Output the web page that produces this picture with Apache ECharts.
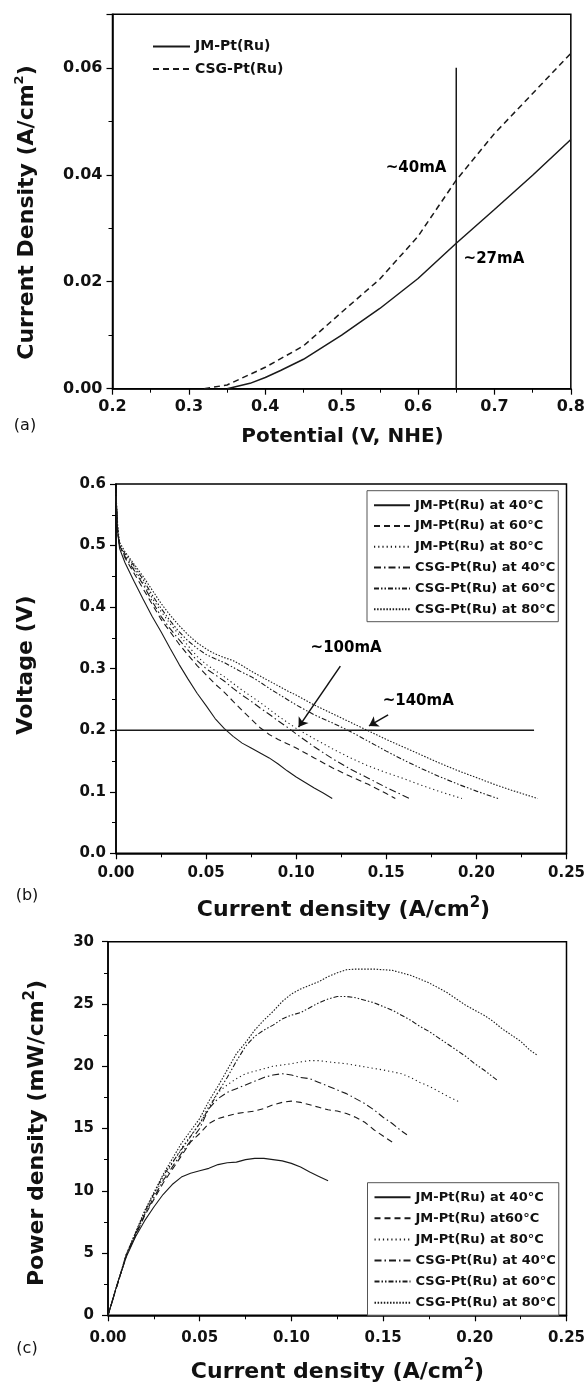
<!DOCTYPE html>
<html><head><meta charset="utf-8">
<script src="https://cdn.jsdelivr.net/npm/echarts@6/dist/echarts.min.js"></script>
<style>html,body{margin:0;padding:0;background:#fff}#c{width:588px;height:1388px}</style>
</head><body><div id="c"></div>
<script>
// ---------- Panel (a): current density vs potential ----------
const aNames = ['JM-Pt(Ru)', 'CSG-Pt(Ru)'];
const aJM = [[0.35,0],[0.38,0.001],[0.40,0.0021],[0.42,0.0034],[0.45,0.0055],[0.50,0.0100],[0.55,0.0150],[0.60,0.0206],[0.65,0.0272],[0.70,0.0335],[0.75,0.0399],[0.80,0.0466]];
const aCSG = [[0.32,0],[0.35,0.0007],[0.40,0.0040],[0.45,0.0080],[0.50,0.0143],[0.55,0.0205],[0.60,0.0285],[0.65,0.0390],[0.70,0.0477],[0.75,0.0552],[0.80,0.0627]];
const aVLine = [[0.65,0],[0.65,0.06]];
const aNotes = [{text:'~40mA', at:[0.598,0.0412]},{text:'~27mA', at:[0.70,0.0242]}];

// ---------- Panel (b): voltage vs current density ----------
const bNames = ['JM-Pt(Ru) at 40°C','JM-Pt(Ru) at 60°C','JM-Pt(Ru) at 80°C','CSG-Pt(Ru) at 40°C','CSG-Pt(Ru) at 60°C','CSG-Pt(Ru) at 80°C'];
const bJM40 = [[0,0.58],[0.001,0.52],[0.002,0.495],[0.005,0.472],[0.01,0.442],[0.015,0.413],[0.02,0.385],[0.025,0.36],[0.03,0.333],[0.035,0.307],[0.04,0.283],[0.045,0.26],[0.05,0.24],[0.055,0.219],[0.06,0.203],[0.065,0.19],[0.07,0.179],[0.075,0.171],[0.08,0.163],[0.085,0.155],[0.09,0.145],[0.095,0.134],[0.1,0.124],[0.105,0.115],[0.11,0.106],[0.115,0.098],[0.12,0.089]];
const bJM60 = [[0,0.58],[0.001,0.52],[0.002,0.5],[0.005,0.48],[0.01,0.455],[0.015,0.43],[0.02,0.405],[0.025,0.38],[0.03,0.36],[0.035,0.34],[0.04,0.322],[0.045,0.305],[0.05,0.29],[0.055,0.275],[0.06,0.262],[0.065,0.247],[0.07,0.232],[0.075,0.218],[0.08,0.204],[0.085,0.193],[0.09,0.185],[0.095,0.178],[0.1,0.171],[0.11,0.155],[0.12,0.139],[0.13,0.125],[0.14,0.112],[0.15,0.097],[0.155,0.089]];
const bJM80 = [[0,0.58],[0.001,0.52],[0.002,0.5],[0.005,0.485],[0.01,0.463],[0.015,0.44],[0.02,0.415],[0.025,0.393],[0.03,0.373],[0.035,0.355],[0.04,0.337],[0.045,0.32],[0.05,0.307],[0.055,0.297],[0.06,0.287],[0.065,0.276],[0.07,0.265],[0.075,0.255],[0.08,0.245],[0.085,0.234],[0.09,0.223],[0.095,0.213],[0.1,0.203],[0.11,0.186],[0.12,0.17],[0.13,0.155],[0.14,0.142],[0.15,0.131],[0.16,0.121],[0.17,0.11],[0.18,0.1],[0.192,0.089]];
const bCSG40 = [[0,0.58],[0.001,0.52],[0.002,0.5],[0.005,0.482],[0.01,0.46],[0.015,0.437],[0.02,0.41],[0.025,0.385],[0.03,0.365],[0.035,0.347],[0.04,0.33],[0.045,0.313],[0.05,0.3],[0.055,0.29],[0.06,0.28],[0.065,0.268],[0.07,0.257],[0.075,0.247],[0.08,0.236],[0.085,0.226],[0.09,0.215],[0.095,0.205],[0.1,0.194],[0.11,0.173],[0.12,0.154],[0.13,0.137],[0.14,0.122],[0.15,0.107],[0.163,0.089]];
const bCSG60 = [[0,0.58],[0.001,0.52],[0.002,0.5],[0.005,0.487],[0.01,0.467],[0.015,0.445],[0.02,0.42],[0.025,0.398],[0.03,0.378],[0.035,0.36],[0.04,0.345],[0.045,0.333],[0.05,0.323],[0.055,0.316],[0.06,0.31],[0.065,0.302],[0.07,0.294],[0.075,0.287],[0.08,0.278],[0.085,0.268],[0.09,0.259],[0.095,0.25],[0.1,0.241],[0.11,0.225],[0.12,0.212],[0.13,0.198],[0.14,0.182],[0.15,0.166],[0.16,0.151],[0.17,0.137],[0.18,0.124],[0.19,0.112],[0.2,0.101],[0.212,0.089]];
const bCSG80 = [[0,0.585],[0.001,0.53],[0.002,0.505],[0.005,0.49],[0.01,0.47],[0.015,0.45],[0.02,0.428],[0.025,0.406],[0.03,0.387],[0.035,0.37],[0.04,0.355],[0.045,0.342],[0.05,0.332],[0.055,0.324],[0.06,0.318],[0.065,0.313],[0.07,0.305],[0.075,0.296],[0.08,0.288],[0.085,0.28],[0.09,0.272],[0.095,0.264],[0.1,0.257],[0.11,0.241],[0.12,0.227],[0.13,0.213],[0.14,0.199],[0.15,0.185],[0.16,0.172],[0.17,0.159],[0.18,0.146],[0.19,0.134],[0.2,0.123],[0.21,0.112],[0.22,0.102],[0.234,0.089]];
const bHLine = [[0,0.2],[0.232,0.2]];
const bArrows = [[[0.1245,0.304],[0.1013,0.205]],[[0.151,0.225],[0.1404,0.207]]];
const bNotes = [{text:'~100mA', at:[0.128,0.332]},{text:'~140mA', at:[0.168,0.246]}];

// ---------- Panel (c): power density vs current density ----------
const cNames = ['JM-Pt(Ru) at 40°C','JM-Pt(Ru) at60°C','JM-Pt(Ru) at 80°C','CSG-Pt(Ru) at 40°C','CSG-Pt(Ru) at 60°C','CSG-Pt(Ru) at 80°C'];
const cJM40 = [[0,0],[0.005,2.5],[0.01,4.7],[0.015,6.3],[0.02,7.6],[0.025,8.7],[0.03,9.7],[0.035,10.5],[0.04,11.1],[0.045,11.4],[0.05,11.6],[0.055,11.8],[0.06,12.1],[0.065,12.25],[0.07,12.3],[0.075,12.5],[0.08,12.6],[0.085,12.6],[0.09,12.5],[0.095,12.4],[0.1,12.2],[0.105,11.9],[0.11,11.5],[0.115,11.15],[0.12,10.8]];
const cJM60 = [[0,0],[0.01,4.8],[0.02,8.0],[0.03,10.6],[0.04,12.8],[0.045,13.9],[0.05,14.6],[0.055,15.4],[0.06,15.8],[0.065,16.0],[0.07,16.2],[0.075,16.3],[0.08,16.4],[0.085,16.6],[0.09,16.9],[0.095,17.1],[0.1,17.2],[0.105,17.1],[0.11,16.9],[0.115,16.7],[0.12,16.5],[0.125,16.4],[0.13,16.2],[0.135,15.9],[0.14,15.5],[0.145,14.9],[0.15,14.4],[0.155,13.9]];
const cJM80 = [[0,0],[0.01,4.9],[0.02,8.2],[0.03,11.0],[0.04,13.4],[0.05,15.4],[0.055,16.8],[0.06,17.9],[0.065,18.5],[0.07,19.0],[0.075,19.4],[0.08,19.6],[0.085,19.8],[0.09,20.0],[0.095,20.1],[0.1,20.2],[0.105,20.35],[0.11,20.45],[0.115,20.45],[0.12,20.35],[0.13,20.2],[0.14,19.95],[0.15,19.7],[0.16,19.4],[0.165,19.1],[0.17,18.7],[0.175,18.4],[0.18,18.0],[0.185,17.6],[0.192,17.1]];
const cCSG40 = [[0,0],[0.01,4.8],[0.02,8.1],[0.03,10.8],[0.04,13.0],[0.045,14.0],[0.05,15.0],[0.055,16.6],[0.06,17.4],[0.065,17.9],[0.07,18.2],[0.075,18.5],[0.08,18.8],[0.085,19.1],[0.09,19.3],[0.095,19.4],[0.1,19.3],[0.105,19.1],[0.11,19.0],[0.115,18.7],[0.12,18.4],[0.125,18.1],[0.13,17.8],[0.135,17.4],[0.14,17.0],[0.145,16.5],[0.15,15.9],[0.155,15.4],[0.16,14.8],[0.163,14.5]];
const cCSG60 = [[0,0],[0.01,4.9],[0.02,8.3],[0.03,11.2],[0.04,13.3],[0.05,15.4],[0.055,16.6],[0.06,17.9],[0.065,19.1],[0.07,20.4],[0.075,21.6],[0.08,22.4],[0.085,22.9],[0.09,23.3],[0.095,23.8],[0.1,24.1],[0.105,24.3],[0.11,24.7],[0.115,25.1],[0.12,25.4],[0.125,25.6],[0.13,25.6],[0.135,25.5],[0.14,25.3],[0.145,25.1],[0.15,24.8],[0.155,24.5],[0.16,24.1],[0.165,23.7],[0.17,23.2],[0.175,22.8],[0.18,22.3],[0.185,21.8],[0.19,21.3],[0.195,20.8],[0.2,20.2],[0.205,19.7],[0.212,18.9]];
const cCSG80 = [[0,0],[0.01,4.9],[0.02,8.4],[0.03,11.3],[0.04,13.8],[0.05,15.8],[0.055,17.2],[0.06,18.4],[0.065,19.7],[0.07,21.0],[0.075,21.9],[0.08,22.9],[0.085,23.7],[0.09,24.4],[0.095,25.2],[0.1,25.8],[0.105,26.2],[0.11,26.5],[0.115,26.8],[0.12,27.2],[0.125,27.5],[0.13,27.75],[0.135,27.8],[0.14,27.8],[0.145,27.8],[0.15,27.75],[0.155,27.7],[0.16,27.5],[0.165,27.3],[0.17,27.0],[0.175,26.7],[0.18,26.3],[0.185,25.9],[0.19,25.4],[0.195,24.9],[0.2,24.5],[0.205,24.1],[0.21,23.6],[0.215,23.0],[0.22,22.5],[0.225,22.0],[0.23,21.3],[0.234,20.9]];

// ---------- styling ----------
const FONT = 'DejaVu Sans';
const INK = '#111';
const dashStyles = ['solid',[6,4],[1.2,3],[7,3,1.5,3],[5,2,1.5,2,1.5,2],[1.5,1.6]];

function lineSeries(name, data, idx, dash, width) {
  return {type:'line', name, data, xAxisIndex:idx, yAxisIndex:idx, symbol:'none',
    lineStyle:{color:'#1a1a1a', width:width, type:dash}, itemStyle:{color:'#1a1a1a'},
    silent:true, animation:false, z:3};
}
function noteSeries(notes, idx, size) {
  return {type:'scatter', xAxisIndex:idx, yAxisIndex:idx, symbolSize:1, silent:true, animation:false,
    itemStyle:{color:'rgba(0,0,0,0)'},
    data: notes.map(n => ({value:n.at, label:{formatter:n.text}})),
    label:{show:true, position:[0,0], align:'center', verticalAlign:'middle',
      fontFamily:FONT, fontWeight:'bold', fontSize:size, color:'#000', opacity:1}};
}
function xAx(idx, min, max, interval, dec, fs, margin) {
  return {type:'value', gridIndex:idx, min, max, interval,
    axisLine:{show:true, onZero:false, lineStyle:{color:'#000', width:1.5}},
    axisTick:{show:true, inside:false, length:6, lineStyle:{color:'#000', width:1.2}},
    minorTick:{show:true, splitNumber:2, length:4, lineStyle:{color:'#000', width:1}},
    splitLine:{show:false},
    axisLabel:{fontFamily:FONT, fontWeight:'bold', fontSize:fs, color:INK, margin, formatter:v=>v.toFixed(dec)}};
}
function yAx(idx, min, max, interval, dec, fs, margin, hideMax) {
  const a = xAx(idx, min, max, interval, dec, fs, margin);
  if (hideMax) a.axisLabel.showMaxLabel = false;
  return a;
}
function legendBox(names, left, top, fs, boxed, itemW, itemH, gap, pad) {
  return {data:names, orient:'vertical', left, top, itemWidth:itemW, itemHeight:itemH, itemGap:gap,
    padding:pad, selectedMode:false,
    itemStyle:{opacity:0, borderWidth:0},
    lineStyle:{opacity:1},
    borderColor: boxed ? '#555' : 'transparent', borderWidth: boxed ? 1 : 0,
    backgroundColor: boxed ? '#fff' : 'transparent',
    textStyle:{fontFamily:FONT, fontWeight:'bold', fontSize:fs, color:INK}};
}

const series = [
  lineSeries(aNames[0], aJM, 0, 'solid', 1.5),
  lineSeries(aNames[1], aCSG, 0, [6,4], 1.5),
  lineSeries('aRef', aVLine, 0, 'solid', 1.5),
  noteSeries(aNotes, 0, 15),
  lineSeries(bNames[0], bJM40, 1, dashStyles[0], 1.1),
  lineSeries(bNames[1], bJM60, 1, dashStyles[1], 1.1),
  lineSeries(bNames[2], bJM80, 1, dashStyles[2], 1.1),
  lineSeries(bNames[3], bCSG40, 1, dashStyles[3], 1.1),
  lineSeries(bNames[4], bCSG60, 1, dashStyles[4], 1.1),
  lineSeries(bNames[5], bCSG80, 1, dashStyles[5], 1.1),
  Object.assign(lineSeries('bRef', bHLine, 1, 'solid', 1.5), {
    markLine:{silent:true, animation:false, symbol:['none','arrow'], symbolSize:9,
      lineStyle:{color:INK, width:1.5, type:'solid'}, label:{show:false},
      data: bArrows.map(a => [{coord:a[0]},{coord:a[1]}])}
  }),
  noteSeries(bNotes, 1, 15),
  lineSeries(cNames[0], cJM40, 2, dashStyles[0], 1.1),
  lineSeries(cNames[1], cJM60, 2, dashStyles[1], 1.1),
  lineSeries(cNames[2], cJM80, 2, dashStyles[2], 1.1),
  lineSeries(cNames[3], cCSG40, 2, dashStyles[3], 1.1),
  lineSeries(cNames[4], cCSG60, 2, dashStyles[4], 1.1),
  lineSeries(cNames[5], cCSG80, 2, dashStyles[5], 1.1)
];

function titleText(x, y, rich, rotate, mainSize, supSize) {
  return {type:'text', x, y, rotation: rotate ? Math.PI/2 : 0, silent:true,
    style:{text:rich, align:'center', verticalAlign:'middle', textAlign:'center', textVerticalAlign:'middle',
      fill:INK,
      rich:{m:{fontFamily:FONT, fontWeight:'bold', fontSize:mainSize, lineHeight:mainSize+6, fill:INK},
            s:{fontFamily:FONT, fontWeight:'bold', fontSize:supSize, lineHeight:supSize, verticalAlign:'top', fill:INK}}}};
}
function panelTag(x, y, t) {
  return {type:'text', x, y, silent:true,
    style:{text:t, align:'center', verticalAlign:'middle', textAlign:'center', textVerticalAlign:'middle',
      fontFamily:FONT, fontSize:16, fill:INK}};
}

const option = {
  backgroundColor:'#fff',
  animation:false,
  grid:[
    {left:112.5, right:15.4, top:14.3, height:374.4, show:true, borderColor:'#000', borderWidth:1.5},
    {left:116, right:18, top:484, height:369.3, show:true, borderColor:'#000', borderWidth:1.5},
    {left:108, right:21, top:941.7, height:373.6, show:true, borderColor:'#000', borderWidth:1.5}
  ],
  xAxis:[xAx(0,0.2,0.8,0.1,1,16,10), xAx(1,0,0.25,0.05,2,15,12), xAx(2,0,0.25,0.05,2,15,15)],
  yAxis:[yAx(0,0,0.07,0.02,2,16,10,true), yAx(1,0,0.6,0.1,1,15,10,false), yAx(2,0,30,5,0,15,14,false)],
  legend:[
    legendBox(aNames, 152, 39.5, 14, false, 37, 14, 8.6, 0),
    legendBox(bNames, 367, 490.7, 13, true, 36, 12, 7.8, [8,3,6,6]),
    legendBox(cNames, 367.5, 1182.7, 13, true, 36, 12, 8.1, [8,3,6,6])
  ],
  graphic:[
    titleText(27, 212.5, '{m|Current Density (A/cm}{s|2}{m|)}', true, 22, 13),
    titleText(342.5, 437, '{m|Potential (V, NHE)}', false, 20, 12),
    titleText(26, 665, '{m|Voltage (V)}', true, 22, 13),
    titleText(343.5, 910, '{m|Current density (A/cm}{s|2}{m|)}', false, 22, 15),
    titleText(37, 1133, '{m|Power density (mW/cm}{s|2}{m|)}', true, 22, 15),
    titleText(337.5, 1372, '{m|Current density (A/cm}{s|2}{m|)}', false, 22, 15),
    panelTag(25, 425.5, '(a)'),
    panelTag(27, 896, '(b)'),
    panelTag(27, 1349, '(c)')
  ],
  series
};
const chart = echarts.init(document.getElementById('c'), null, {renderer:'canvas'});
chart.setOption(option);
</script>
</body></html>
